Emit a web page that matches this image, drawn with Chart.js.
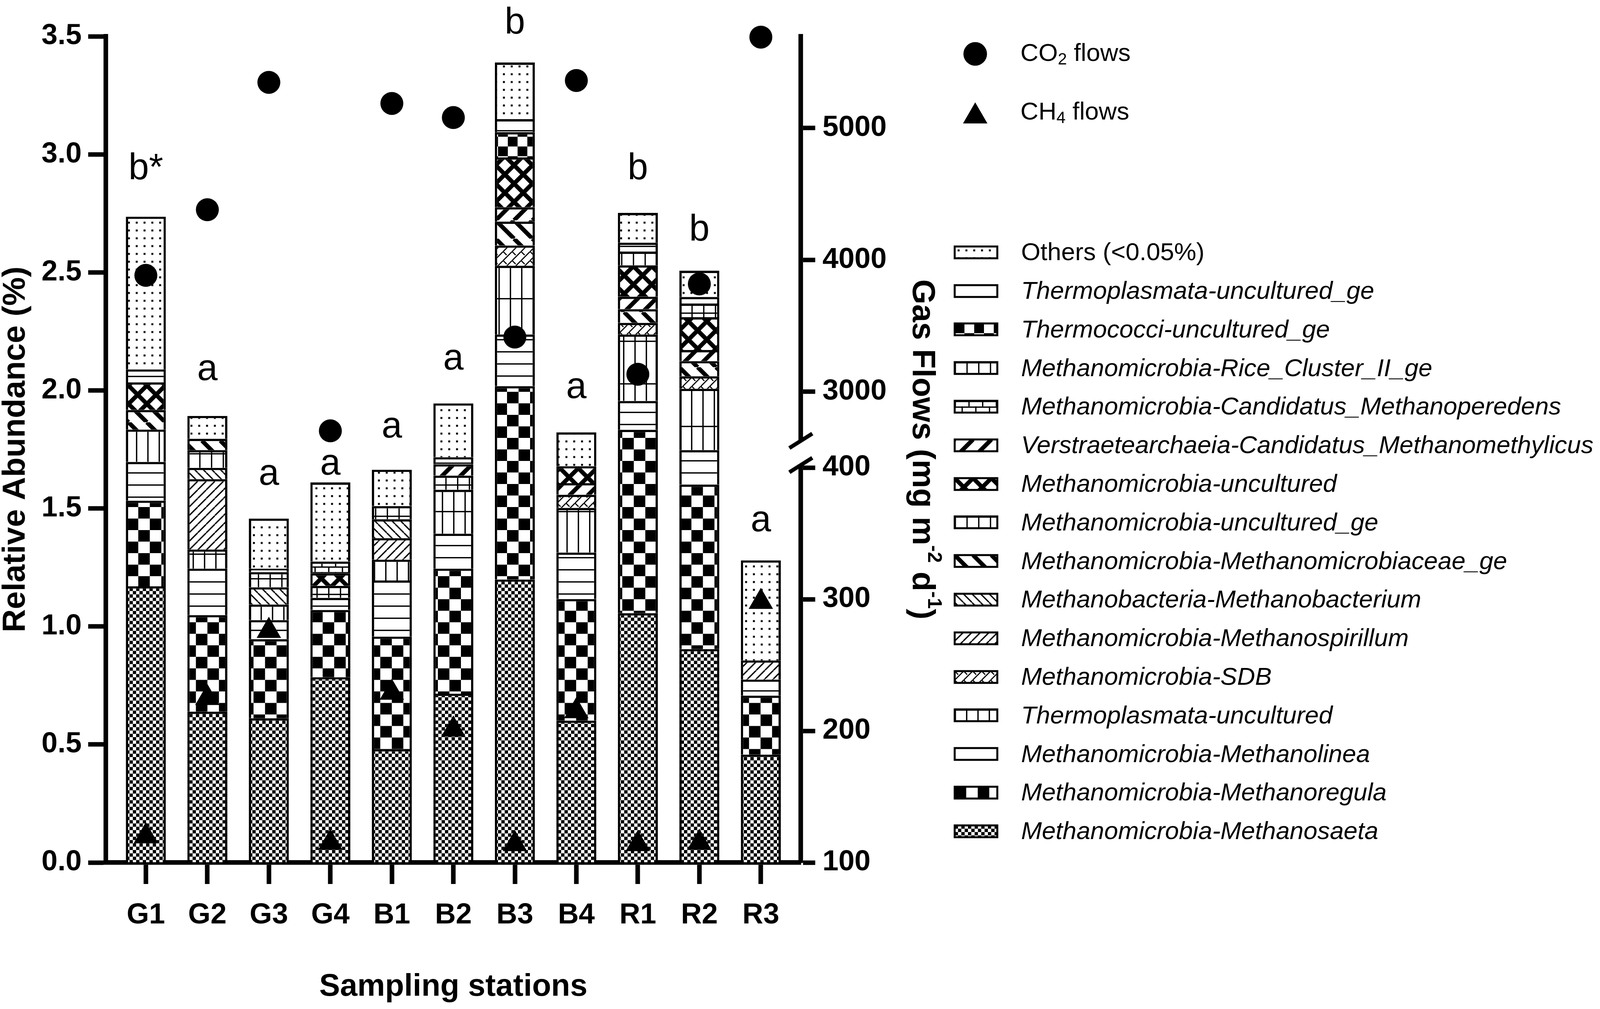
<!DOCTYPE html>
<html><head><meta charset="utf-8">
<script src="https://cdn.jsdelivr.net/npm/chart.js@4.4.1/dist/chart.umd.min.js"></script>
<style>html,body{margin:0;padding:0;background:#fff;overflow:hidden;}#wrap{position:relative;}</style>
</head><body><div id="wrap"><canvas id="c"></canvas></div>
<script>
// ---------------- data ----------------
const categories = ['G1','G2','G3','G4','B1','B2','B3','B4','R1','R2','R3'];
// relative abundance (%), stacked bottom -> top
const methanosaeta      = [1.170, 0.639, 0.611, 0.785, 0.480, 0.715, 1.199, 0.601, 1.056, 0.904, 0.457];
const methanoregula     = [0.363, 0.409, 0.335, 0.285, 0.477, 0.530, 0.819, 0.515, 0.777, 0.697, 0.250];
const methanolinea      = [0.164, 0.197, 0.081, 0.051, 0.238, 0.148, 0.219, 0.197, 0.122, 0.146, 0.068];
const thermoplasmataUnc = [0.137, 0.081, 0.066, 0.000, 0.088, 0.186, 0.291, 0.189, 0.282, 0.260, 0.000];
const sdb               = [0.000, 0.000, 0.000, 0.000, 0.000, 0.000, 0.086, 0.056, 0.049, 0.053, 0.000];
const methanospirillum  = [0.000, 0.298, 0.000, 0.000, 0.091, 0.000, 0.000, 0.000, 0.000, 0.000, 0.081];
const methanobacterium  = [0.000, 0.048, 0.073, 0.000, 0.080, 0.000, 0.000, 0.000, 0.000, 0.000, 0.000];
const unculturedGe      = [0.000, 0.075, 0.064, 0.051, 0.056, 0.060, 0.000, 0.000, 0.000, 0.000, 0.000];
const methanomicrobiaceaeGe = [0.083, 0.048, 0.000, 0.000, 0.000, 0.000, 0.101, 0.000, 0.058, 0.064, 0.000];
const methanomethylicus = [0.000, 0.000, 0.000, 0.000, 0.000, 0.048, 0.061, 0.049, 0.053, 0.047, 0.000];
const uncultured        = [0.117, 0.000, 0.000, 0.053, 0.000, 0.000, 0.211, 0.072, 0.133, 0.139, 0.000];
const methanoperedens   = [0.000, 0.000, 0.000, 0.050, 0.000, 0.000, 0.000, 0.000, 0.000, 0.000, 0.000];
const riceClusterII     = [0.000, 0.000, 0.000, 0.000, 0.000, 0.000, 0.000, 0.000, 0.058, 0.058, 0.000];
const thermococci       = [0.000, 0.000, 0.000, 0.000, 0.000, 0.000, 0.107, 0.000, 0.000, 0.000, 0.000];
const thermoplasmataGe  = [0.055, 0.000, 0.015, 0.000, 0.000, 0.030, 0.055, 0.000, 0.038, 0.028, 0.000];
const others            = [0.647, 0.097, 0.212, 0.335, 0.154, 0.228, 0.240, 0.143, 0.126, 0.111, 0.424];
// gas flows (mg m-2 d-1)
const co2Flows = [3883, 4381, 5347, 2704, 5187, 5080, 3415, 5361, 3133, 3818, 5690];
const ch4Flows = [120, 225, 276, 115, 229, 201, 114, 215, 114, 115, 298];
// significance letters and their baseline level (left axis units)
const letters      = ['b*','a','a','a','a','a','b','a','b','b','a'];
const letterLevels = [2.894, 2.043, 1.600, 1.643, 1.801, 2.089, 3.512, 1.967, 2.895, 2.634, 1.404];
// tick labels
const leftTicks  = [0, 0.5, 1.0, 1.5, 2.0, 2.5, 3.0, 3.5];
const upperTicks = [3000, 4000, 5000];
const lowerTicks = [100, 200, 300, 400];

const seriesNames = [
  'Methanomicrobia-Methanosaeta','Methanomicrobia-Methanoregula','Methanomicrobia-Methanolinea',
  'Thermoplasmata-uncultured','Methanomicrobia-SDB','Methanomicrobia-Methanospirillum',
  'Methanobacteria-Methanobacterium','Methanomicrobia-uncultured_ge','Methanomicrobia-Methanomicrobiaceae_ge',
  'Verstraetearchaeia-Candidatus_Methanomethylicus','Methanomicrobia-uncultured',
  'Methanomicrobia-Candidatus_Methanoperedens','Methanomicrobia-Rice_Cluster_II_ge',
  'Thermococci-uncultured_ge','Thermoplasmata-uncultured_ge','Others (<0.05%)'];
const seriesValues = [methanosaeta, methanoregula, methanolinea, thermoplasmataUnc, sdb, methanospirillum,
  methanobacterium, unculturedGe, methanomicrobiaceaeGe, methanomethylicus, uncultured, methanoperedens,
  riceClusterII, thermococci, thermoplasmataGe, others];
const seriesPatterns = ['checkerSmall','checkerBig','hlines','vlinesTall','sdb','slashThin','backThin','vbrick',
  'backThick','slashThick','cross','hbrick','vbrick','checkerMid','hlinesWide','dots'];
const legendOrder = [15,14,13,12,11,9,10,7,8,6,5,4,3,2,1,0];

// ---------------- sizing (design space 4881 x 2583) ----------------
const W = window.innerWidth || 4881, H = window.innerHeight || 2583;
const kx = W / 4881, ky = H / 2583, k = Math.min(kx, ky);
const X = v => v * kx, Y = v => v * ky, S = v => v * k;
const wrap = document.getElementById('wrap');
wrap.style.width = W + 'px'; wrap.style.height = H + 'px';

// ---------------- patterns ----------------
const F = "'Liberation Sans', Arial, Helvetica, sans-serif";
Chart.defaults.font.family = F;
Chart.defaults.color = '#000';
const canvas = document.getElementById('c');
const ctx0 = canvas.getContext('2d');
function diag(g, w, h, lw, dir) {
  g.lineWidth = lw; g.beginPath();
  for (let i = -1; i <= 1; i++) {
    if (dir === '/') { g.moveTo(i*w, h); g.lineTo(i*w + w, 0); }
    else { g.moveTo(i*w, 0); g.lineTo(i*w + w, h); }
  }
  g.stroke();
}
const dpr = window.devicePixelRatio || 1;
function tile(w, h, draw) {
  const f = k * dpr;
  const c = document.createElement('canvas');
  c.width = Math.max(1, Math.round(w * f)); c.height = Math.max(1, Math.round(h * f));
  const g = c.getContext('2d');
  g.scale(c.width / w, c.height / h);
  g.fillStyle = '#fff'; g.fillRect(0, 0, w, h);
  g.fillStyle = '#000'; g.strokeStyle = '#000';
  draw(g, w, h);
  const p = ctx0.createPattern(c, 'repeat');
  if (p.setTransform && typeof DOMMatrix !== 'undefined') p.setTransform(new DOMMatrix().scale(1 / dpr, 1 / dpr));
  return p;
}
const P = {
  checkerSmall: tile(20, 20, g => { g.fillRect(0,0,10,10); g.fillRect(10,10,10,10); }),
  checkerBig:   tile(70, 70, g => { g.fillRect(0,0,35,35); g.fillRect(35,35,35,35); }),
  checkerMid:   tile(60, 60, g => { g.fillRect(0,0,30,30); g.fillRect(30,30,30,30); }),
  hlines:       tile(10, 37, g => { g.fillRect(0,0,10,4); }),
  hlinesWide:   tile(10, 44, g => { g.fillRect(0,0,10,4); }),
  vlinesTall:   tile(34, 130, g => { g.fillRect(0,0,4,130); g.fillRect(0,0,34,4); }),
  vbrick:       tile(36, 48, g => { g.fillRect(0,0,4,48); g.fillRect(0,0,36,4); }),
  hbrick:       tile(42, 34, g => { g.fillRect(0,0,42,4); g.fillRect(0,17,42,4); g.fillRect(0,0,4,17); g.fillRect(21,17,4,17); }),
  slashThin:    tile(26, 26, (g,w,h) => diag(g,w,h,4,'/')),
  backThin:     tile(26, 26, (g,w,h) => diag(g,w,h,4,'\\')),
  slashThick:   tile(56, 56, (g,w,h) => diag(g,w,h,13,'/')),
  backThick:    tile(56, 56, (g,w,h) => diag(g,w,h,13,'\\')),
  cross:        tile(56, 56, (g,w,h) => { diag(g,w,h,13,'/'); diag(g,w,h,13,'\\'); }),
  sdb:          tile(28, 28, (g,w,h) => { diag(g,w,h,3.5,'/'); g.lineWidth = 3.5; g.beginPath(); g.moveTo(0,0); g.lineTo(11,11); g.stroke(); }),
  dots:         tile(24, 24, g => { g.fillRect(9,9,6,6); })
};
// legend swatches: horizontal-line patterns show as plain white boxes in the key
const plainInLegend = ['hlines', 'hlinesWide'];

// ---------------- datasets ----------------
const bw = S(7);
const datasets = seriesNames.map((name, s) => ({
  type: 'bar', label: name,
  data: seriesValues[s].map((v, i) => ({ x: i, y: v > 0 ? v : null })),
  backgroundColor: P[seriesPatterns[s]],
  borderColor: '#000',
  borderWidth: { top: bw, left: bw, right: bw, bottom: 0 },
  borderSkipped: false,
  xAxisID: 'x', yAxisID: 'y',
  categoryPercentage: 1, barPercentage: 0.65,
  order: 2
}));
datasets.push({
  type: 'line', label: 'CO2 flows', yAxisID: 'yUp', xAxisID: 'x',
  data: co2Flows.map((v, i) => ({ x: i, y: v })),
  showLine: false, pointStyle: 'circle', pointRadius: S(35), pointBorderWidth: 0,
  pointBackgroundColor: '#000', backgroundColor: '#000', borderColor: '#000', clip: false, order: 0
});
datasets.push({
  type: 'line', label: 'CH4 flows', yAxisID: 'yLow', xAxisID: 'x',
  data: ch4Flows.map((v, i) => ({ x: i, y: v })),
  showLine: false, pointStyle: 'triangle', pointRadius: S(43), pointBorderWidth: 0,
  pointBackgroundColor: '#000', backgroundColor: '#000', borderColor: '#000', clip: false, order: 0
});

// ---------------- decorations ----------------
const font = (px, style) => (style ? style + ' ' : '') + S(px) + 'px ' + F;
function drawRuns(ctx, runs, x, y) {
  let total = 0;
  runs.forEach(r => { ctx.font = r.font; r.w = ctx.measureText(r.t).width; total += r.w; });
  let cx = x - total / 2;
  runs.forEach(r => { ctx.font = r.font; ctx.fillText(r.t, cx, y + (r.dy || 0)); cx += r.w; });
}
const decor = {
  id: 'decor',
  afterDraw(chart) {
    const ctx = chart.ctx;
    const sx = chart.scales.x, sy = chart.scales.y, up = chart.scales.yUp, low = chart.scales.yLow;
    ctx.save();
    ctx.fillStyle = '#000';
    // significance letters
    ctx.font = font(112); ctx.textAlign = 'center'; ctx.textBaseline = 'alphabetic';
    letters.forEach((t, i) => ctx.fillText(t, sx.getPixelForValue(i), sy.getPixelForValue(letterLevels[i])));
    // axis break
    const bx = up.left;
    const y1 = up.bottom - Y(22), y2 = low.top + Y(40);
    ctx.fillStyle = '#fff'; ctx.fillRect(bx - S(12), y1, S(24), y2 - y1);
    ctx.strokeStyle = '#000'; ctx.lineWidth = S(12); ctx.lineCap = 'butt';
    [y1, y2].forEach(yy => { ctx.beginPath(); ctx.moveTo(bx - S(35), yy + S(22)); ctx.lineTo(bx + S(35), yy - S(22)); ctx.stroke(); });
    ctx.fillStyle = '#000';
    // axis titles
    ctx.textAlign = 'left'; ctx.textBaseline = 'middle';
    const midY = (sy.top + sy.bottom) / 2;
    ctx.save(); ctx.translate(X(48), midY); ctx.rotate(-Math.PI / 2);
    drawRuns(ctx, [{ t: 'Relative Abundance (%)', font: font(98, 'bold') }], 0, 0);
    ctx.restore();
    ctx.save(); ctx.translate(X(2812), midY); ctx.rotate(Math.PI / 2);
    drawRuns(ctx, [
      { t: 'Gas Flows (mg m', font: font(98, 'bold') },
      { t: '-2', font: font(60, 'bold'), dy: -S(36) },
      { t: ' d', font: font(98, 'bold') },
      { t: '-1', font: font(60, 'bold'), dy: -S(36) },
      { t: ')', font: font(98, 'bold') }], 0, 0);
    ctx.restore();
    ctx.textBaseline = 'alphabetic';
    drawRuns(ctx, [{ t: 'Sampling stations', font: font(95, 'bold') }], (sx.left + sx.right) / 2, Y(2549));
    // point legend
    ctx.beginPath(); ctx.arc(X(2975), Y(138), S(36), 0, Math.PI * 2); ctx.fill();
    ctx.beginPath();
    const tr = S(43), tcx = X(2975), tcy = Y(298);
    for (let i = 0; i < 3; i++) {
      const a = i * 2 * Math.PI / 3;
      const px = tcx + Math.sin(a) * tr, py = tcy - Math.cos(a) * tr;
      if (i === 0) ctx.moveTo(px, py); else ctx.lineTo(px, py);
    }
    ctx.closePath(); ctx.fill();
    ctx.textBaseline = 'middle';
    const leftRuns = (x, y, runs) => {
      let cx = x;
      runs.forEach(r => { ctx.font = r.font; ctx.fillText(r.t, cx, y + (r.dy || 0)); cx += ctx.measureText(r.t).width; });
    };
    leftRuns(X(3113), Y(138), [{ t: 'CO', font: font(76) }, { t: '2', font: font(50), dy: S(18) }, { t: ' flows', font: font(76) }]);
    leftRuns(X(3113), Y(288), [{ t: 'CH', font: font(76) }, { t: '4', font: font(50), dy: S(18) }, { t: ' flows', font: font(76) }]);
    // pattern legend
    const legX = X(2912), legW = S(130), legH = S(36), legTextX = X(3115);
    legendOrder.forEach((s, i) => {
      const cy = Y(646 + i * 98.8);
      const top = Math.round(cy - legH / 2);
      ctx.save();
      ctx.translate(Math.round(legX), top);
      ctx.fillStyle = plainInLegend.includes(seriesPatterns[s]) ? '#fff' : chart.data.datasets[s].backgroundColor;
      ctx.fillRect(0, 0, legW, legH);
      ctx.lineWidth = S(6); ctx.strokeStyle = '#000';
      ctx.strokeRect(0, 0, legW, legH);
      ctx.restore();
      ctx.fillStyle = '#000';
      ctx.font = font(76, s === 15 ? '' : 'italic');
      ctx.textAlign = 'left'; ctx.textBaseline = 'middle';
      ctx.fillText(seriesNames[s], legTextX, cy + S(3));
    });
    ctx.restore();
  }
};

// ---------------- chart ----------------
const tickFont = { size: S(88), weight: 'bold' };
const axisLine = { display: true, color: '#000', width: S(14) };
new Chart(canvas, {
  data: { datasets },
  plugins: [decor],
  options: {
    responsive: true, maintainAspectRatio: false, animation: false, events: [],
    layout: { padding: { top: Y(93), left: 0, right: X(4881 - 2443 - 260), bottom: 0 } },
    plugins: { legend: { display: false }, tooltip: { enabled: false }, title: { display: false } },
    scales: {
      x: {
        type: 'linear', position: 'bottom', min: -0.65, max: 10.65, stacked: true, offset: false,
        afterBuildTicks: s => { s.ticks = categories.map((c, i) => ({ value: i })); },
        ticks: { callback: v => categories[v] ?? '', font: tickFont, padding: Y(36), color: '#000', maxRotation: 0, autoSkip: false },
        grid: { offset: false, drawOnChartArea: false, drawTicks: true, tickLength: Y(55), tickWidth: S(14), tickColor: '#000' },
        border: axisLine,
        afterFit: s => { s.height = Y(375); }
      },
      y: {
        type: 'linear', position: 'left', min: 0, max: 3.5, stacked: true,
        afterBuildTicks: s => { s.ticks = leftTicks.map(v => ({ value: v })); },
        ticks: { callback: v => Number(v).toFixed(1), font: tickFont, padding: X(20), color: '#000', autoSkip: false },
        grid: { drawOnChartArea: false, drawTicks: true, tickLength: X(54), tickWidth: S(14), tickColor: '#000' },
        border: axisLine,
        afterFit: s => { s.width = X(323); }
      },
      yUp: {
        type: 'linear', position: 'right', stack: 'gas', stackWeight: 1, weight: 1, min: 2563, max: 5696,
        afterBuildTicks: s => { s.ticks = upperTicks.map(v => ({ value: v })); },
        ticks: { callback: v => String(v), font: tickFont, padding: X(22), color: '#000', autoSkip: false },
        grid: { drawOnChartArea: false, drawTicks: true, tickLength: X(44), tickWidth: S(14), tickColor: '#000' },
        border: axisLine,
        afterFit: s => { s.width = X(260); }
      },
      yLow: {
        type: 'linear', position: 'right', stack: 'gas', stackWeight: 1, weight: 2, min: 100, max: 413.8,
        afterBuildTicks: s => { s.ticks = lowerTicks.map(v => ({ value: v })); },
        ticks: { callback: v => String(v), font: tickFont, padding: X(22), color: '#000', autoSkip: false },
        grid: { drawOnChartArea: false, drawTicks: true, tickLength: X(44), tickWidth: S(14), tickColor: '#000' },
        border: axisLine,
        afterFit: s => { s.width = X(260); }
      }
    }
  }
});
</script></body></html>
